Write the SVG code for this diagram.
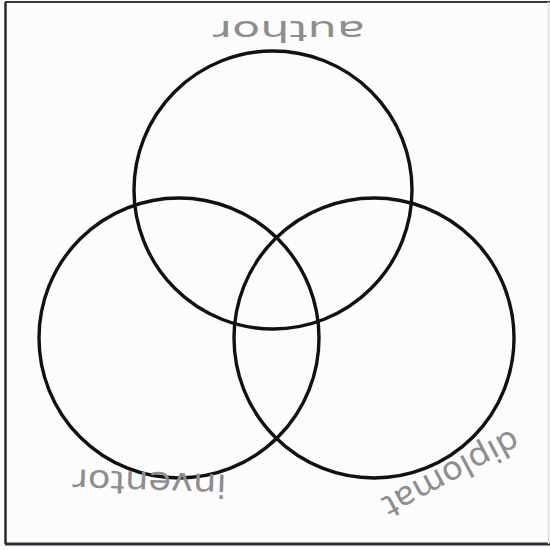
<svg xmlns="http://www.w3.org/2000/svg" width="550" height="550" viewBox="0 0 550 550">
<style>
.ring{fill:none;stroke:#111;stroke-width:3.4}
.lbl{font-family:"DejaVu Sans","Liberation Sans",sans-serif;fill:#8e8e8e}
</style>
<rect width="550" height="550" fill="#fcfcfc"/>
<g id="frame" fill="none">
<line x1="5.5" y1="2" x2="5.5" y2="544" stroke="#2a2a2a" stroke-width="2.5"/>
<line x1="5" y1="2" x2="550" y2="2" stroke="#3a3a3a" stroke-width="2"/>
<line x1="5" y1="544" x2="550" y2="544" stroke="#2a2a3a" stroke-width="3"/>
<line x1="548.5" y1="2" x2="548.5" y2="544" stroke="#dcdcdc" stroke-width="1.5"/>
</g>
<g id="author">
<circle class="ring" cx="273" cy="190" r="139"/>
<text class="lbl" x="289" y="21" font-size="29" text-anchor="middle" textLength="152" lengthAdjust="spacingAndGlyphs" transform="rotate(180 289 21)">author</text>
</g>
<g id="inventor">
<circle class="ring" cx="179" cy="338" r="140"/>
<text class="lbl" x="150" y="472" font-size="32" text-anchor="middle" textLength="154" lengthAdjust="spacingAndGlyphs" transform="rotate(182 150 472)">inventor</text>
</g>
<g id="diplomat">
<circle class="ring" cx="374" cy="338" r="140"/>
<text class="lbl" x="446" y="464" font-size="32" text-anchor="middle" textLength="150" lengthAdjust="spacingAndGlyphs" transform="rotate(152 446 464)">diplomat</text>
</g>
<g id="connectors"/>
</svg>
